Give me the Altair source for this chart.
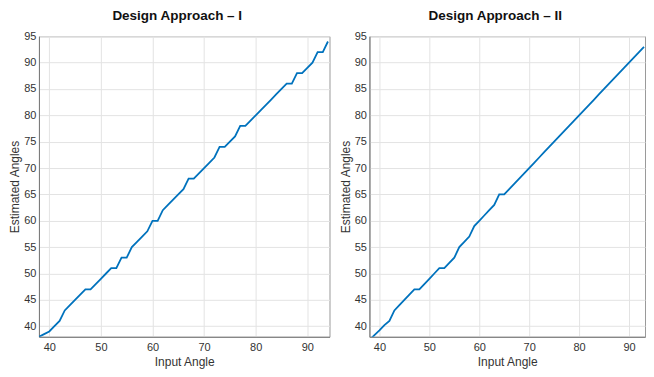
import altair as alt
import pandas as pd

# ---- data ----
input_angle_I = list(range(38, 95))
estimated_I = [38, 38.5, 39, 40, 41, 43, 44, 45, 46, 47, 47, 48, 49, 50, 51, 51, 53, 53,
               55, 56, 57, 58, 60, 60, 62, 63, 64, 65, 66, 68, 68, 69, 70, 71, 72, 74,
               74, 75, 76, 78, 78, 79, 80, 81, 82, 83, 84, 85, 86, 86, 88, 88, 89, 90,
               92, 92, 94]

input_angle_II = list(range(38, 94))
estimated_II = [37.4, 38.3, 39.2, 40.2, 41, 43, 44, 45, 46, 47, 47, 48, 49, 50, 51, 51,
                52, 53, 55, 56, 57, 59, 60, 61, 62, 63, 65, 65, 66, 67, 68, 69, 70, 71,
                72, 73, 74, 75, 76, 77, 78, 79, 80, 81, 82, 83, 84, 85, 86, 87, 88, 89,
                90, 91, 92, 93]

titles = ["Design Approach \u2013 I", "Design Approach \u2013 II"]
x_ticks = [40, 50, 60, 70, 80, 90]
y_ticks = [40, 45, 50, 55, 60, 65, 70, 75, 80, 85, 90, 95]

LINE = "#0072BD"
FONT = "Liberation Sans, Arial"


def panel(xs, ys, title, width, xdom, dx):
    df = pd.DataFrame({"x": xs, "y": ys})
    return alt.Chart(df).mark_line(color=LINE, strokeWidth=1.8, clip=True).encode(
        x=alt.X("x:Q", scale=alt.Scale(domain=xdom, nice=False, zero=False),
                axis=alt.Axis(values=x_ticks, title="Input Angle")),
        y=alt.Y("y:Q", scale=alt.Scale(domain=[38, 95], nice=False, zero=False),
                axis=alt.Axis(values=y_ticks, title="Estimated Angles")),
    ).properties(
        width=width, height=301,
        title=alt.TitleParams(title, dx=dx),
    )


left = panel(input_angle_I, estimated_I, titles[0], 291, [38, 94.3], -7)
right = panel(input_angle_II, estimated_II, titles[1], 276, [38, 93.2], -12)

chart = alt.hconcat(left, right, spacing=8).properties(
    padding={"left": 0, "top": 0, "right": 0, "bottom": 0}
).configure_view(
    stroke="#9a9a9a", strokeWidth=1
).configure_axis(
    grid=True, gridColor="#e3e3e3", gridWidth=1,
    domainColor="#7a7a7a", domainWidth=1,
    ticks=False,
    labelFont=FONT, labelFontSize=11, labelColor="#333333",
    titleFont=FONT, titleFontWeight="normal", titleColor="#333333",
).configure_axisX(
    labelPadding=5, titleFontSize=12, titlePadding=4,
).configure_axisY(
    labelPadding=3, titleFontSize=12, titlePadding=2,
).configure_title(
    font=FONT, fontSize=13.5, fontWeight="bold", color="#111111",
    anchor="middle", offset=8,
)

chart.save("out.html", embed_options={"renderer": "svg", "actions": False})
